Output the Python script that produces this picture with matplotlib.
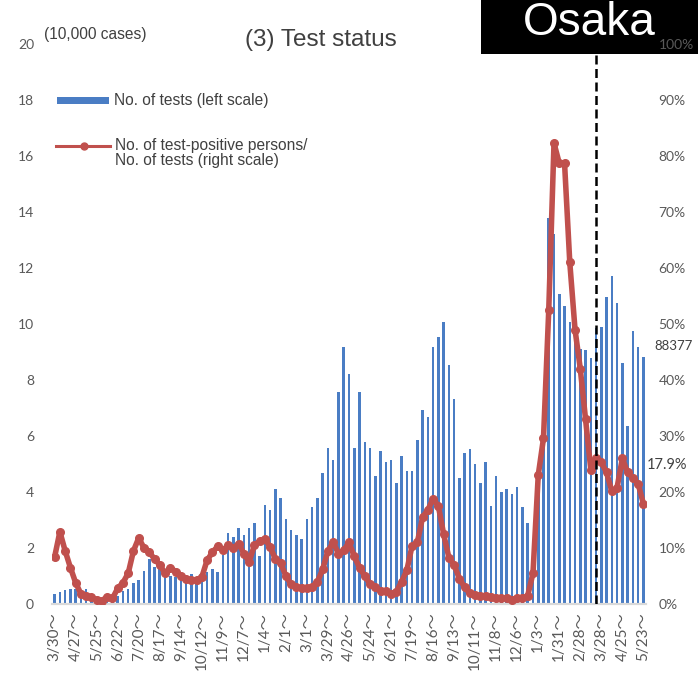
import numpy as np
import matplotlib
matplotlib.use("Agg")
import matplotlib.pyplot as plt
from matplotlib.patches import Rectangle
from matplotlib.lines import Line2D

# weekly tests (10,000 cases) and positivity (%) from the week of 3/30
tests = [0.35, 0.43, 0.5, 0.52, 0.52, 0.5, 0.52, 0.3, 0.25, 0.22,
         0.2, 0.25, 0.3, 0.45, 0.55, 0.76, 0.85, 1.19, 1.6, 1.33,
         1.3, 1.1, 1.0, 0.98, 0.9, 0.88, 1.07, 0.98, 0.98, 1.15,
         1.24, 1.15, 1.75, 2.55, 2.4, 2.73, 2.48, 2.73, 2.88, 1.7,
         3.53, 3.36, 4.1, 3.78, 3.04, 2.64, 2.46, 2.31, 3.04, 3.45,
         3.77, 4.67, 5.56, 5.14, 7.58, 9.19, 8.21, 5.56, 7.58, 5.8,
         5.56, 4.58, 5.48, 5.06, 5.14, 4.33, 5.3, 4.74, 4.74, 5.86,
         6.93, 6.69, 9.19, 9.52, 10.08, 8.54, 7.32, 4.49, 5.38, 5.54,
         4.99, 4.33, 5.06, 3.51, 4.58, 3.99, 4.1, 3.93, 4.17, 3.45,
         2.89, 2.07, 4.5, 6.93, 13.8, 13.2, 11.07, 10.65, 10.08, 9.8,
         9.1, 9.07, 8.8, 9.85, 9.9, 10.98, 11.7, 10.74, 8.6, 6.37,
         9.76, 9.19, 8.8377]

positive_rate = [8.4, 12.9, 9.5, 6.5, 3.8, 1.8, 1.5, 1.2, 0.8, 0.6,
                 1.3, 1.0, 2.8, 3.8, 5.5, 9.5, 11.8, 10.0, 9.3, 8.0,
                 7.0, 5.5, 6.5, 5.8, 5.0, 4.5, 4.3, 4.3, 4.8, 7.8,
                 9.2, 10.3, 9.6, 10.5, 10.0, 10.8, 9.0, 7.5, 10.5, 11.2,
                 11.6, 10.2, 8.0, 7.3, 5.0, 3.5, 3.1, 2.9, 2.8, 3.1,
                 4.0, 6.2, 9.5, 11.0, 9.0, 9.6, 11.0, 8.5, 6.5, 5.0,
                 3.6, 3.0, 2.3, 2.3, 1.8, 2.2, 4.0, 6.0, 10.4, 11.0,
                 15.5, 16.8, 18.8, 17.5, 12.5, 8.3, 7.0, 4.5, 3.0, 1.9,
                 1.6, 1.5, 1.5, 1.2, 1.0, 1.1, 1.0, 0.7, 1.0, 1.0,
                 1.5, 5.5, 23.0, 29.6, 52.5, 82.3, 78.7, 78.8, 61.0, 49.0,
                 42.0, 33.0, 24.0, 26.0, 25.3, 23.5, 20.1, 20.8, 26.0, 23.5,
                 22.5, 21.5, 17.9]

tick_dates = ["3/30", "4/27", "5/25", "6/22", "7/20", "8/17", "9/14", "10/12",
              "11/9", "12/7", "1/4", "2/1", "3/1", "3/29", "4/26", "5/24",
              "6/21", "7/19", "8/16", "9/13", "10/11", "11/8", "12/6", "1/3",
              "1/31", "2/28", "3/28", "4/25", "5/23"]

marker_week = 102.9

W, H = 698, 684
fig = plt.figure(figsize=(W / 100, H / 100), dpi=100)
num_font = ["Lato", "Noto Sans CJK JP"]
txt_font = "Liberation Sans"
gray = "#595959"

x = np.arange(len(tests))
ax = fig.add_axes([52 / W, 1 - 604 / H, 594 / W, 560 / H])
ax.set_facecolor("none")
ax.bar(x, tests, width=0.48, color="#4A7DC4", zorder=2)
ax.set_xlim(-0.5, len(tests) - 0.5)
ax.set_ylim(0, 20)
ax.set_yticks(range(0, 21, 2))
ax.tick_params(axis="y", length=0, pad=13, labelsize=10, labelcolor=gray)
for lbl in ax.get_yticklabels():
    lbl.set_fontfamily(num_font)

ax.set_xticks(range(0, len(tests), 4))
ax.set_xticklabels([d + "～" for d in tick_dates], rotation=90)
ax.tick_params(axis="x", length=0, pad=6, labelsize=11, labelcolor=gray)
for lbl in ax.get_xticklabels():
    lbl.set_fontfamily(num_font)

ax2 = ax.twinx()
ax2.set_facecolor("none")
ax2.plot(x, np.array(positive_rate) / 100, color="#C0504D", lw=4,
         marker="o", ms=5.5, solid_joinstyle="round", solid_capstyle="round",
         zorder=3)
ax2.set_ylim(0, 1)
ax2.set_yticks(np.arange(0, 1.01, 0.1))
ax2.set_yticklabels([f"{int(round(v * 100))}%" for v in np.arange(0, 1.01, 0.1)])
ax2.tick_params(axis="y", length=0, pad=9, labelsize=10, labelcolor=gray)
for lbl in ax2.get_yticklabels():
    lbl.set_fontfamily(num_font)

for a in (ax, ax2):
    for s in ("left", "right", "top"):
        a.spines[s].set_visible(False)
    a.spines["bottom"].set_color("#D9D9D9")
    a.spines["bottom"].set_linewidth(1.5)

ax2.axvline(marker_week, ymin=0, ymax=(604 - 54) / 560, color="black",
            lw=1.8, ls=(0, (3.6, 1.8)), zorder=4)

# value labels for the latest week
last = len(tests) - 1
ax.annotate(f"{int(round(tests[-1] * 10000))}", xy=(last, tests[-1]),
            xytext=(11, 11), textcoords="offset pixels", ha="left",
            va="center", fontsize=9.5, color="#404040", family=num_font,
            annotation_clip=False)
ax2.annotate(f"{positive_rate[-1]:.1f}%", xy=(last, positive_rate[-1] / 100),
             xytext=(3, 39), textcoords="offset pixels", ha="left",
             va="center", fontsize=10.5, color="#404040", family=num_font,
             annotation_clip=False)

# region label box
fig.add_artist(Rectangle((481 / W, 1 - 54 / H), (W - 481) / W, 54 / H,
                         transform=fig.transFigure, facecolor="black",
                         edgecolor="none", zorder=-1))
fig.text(589 / W, 1 - 23 / H, "Osaka", color="white", fontsize=33,
         family=txt_font, ha="center", va="center", zorder=-0.5)

fig.text(321 / W, 1 - 40 / H, "(3) Test status", fontsize=17.5,
         family=txt_font, color="#404040", ha="center", va="center")
fig.text(44 / W, 1 - 35 / H, "(10,000 cases)", fontsize=11.2,
         family=txt_font, color="#404040", ha="left", va="center")

# legend
fig.add_artist(Rectangle((57 / W, 1 - 104 / H), 52 / W, 7.3 / H,
                         transform=fig.transFigure, facecolor="#4A7DC4",
                         edgecolor="none"))
fig.text(114 / W, 1 - 100 / H, "No. of tests (left scale)", fontsize=11.2,
         family=txt_font, color="#404040", ha="left", va="center")
fig.add_artist(Line2D([56 / W, 110 / W], [1 - 146 / H, 1 - 146 / H],
                      transform=fig.transFigure, color="#C0504D", lw=2.2))
fig.add_artist(Line2D([84 / W], [1 - 146 / H], transform=fig.transFigure,
                      color="#C0504D", marker="o", ms=5))
fig.text(115 / W, 1 - 153 / H,
         "No. of test-positive persons/\nNo. of tests (right scale)",
         fontsize=11.2, family=txt_font, color="#404040", ha="left",
         va="center", linespacing=0.95)

fig.savefig("out.png", dpi=100)
